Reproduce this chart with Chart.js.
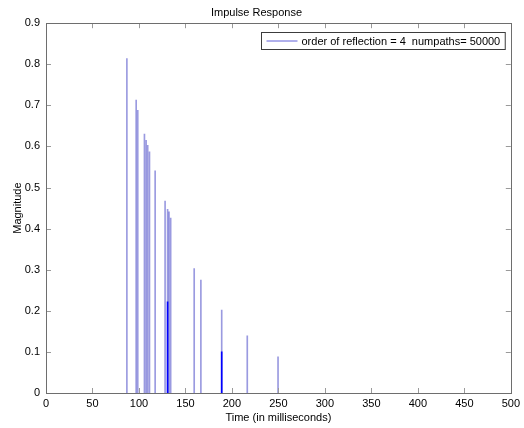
<!DOCTYPE html>
<html><head><meta charset="utf-8">
<script src="https://cdn.jsdelivr.net/npm/chart.js@4/dist/chart.umd.min.js"></script>
<style>html,body{margin:0;padding:0;background:#fff;overflow:hidden}#wrap{width:524px;height:428px;position:relative}</style>
</head><body><div id="wrap"><canvas id="c" width="524" height="428"></canvas></div>
<script>
// ---- data ----
const impulseTimes = [87.0, 97.0, 98.7, 105.9, 107.7, 109.4, 111.3, 117.4, 128.1, 130.8, 132.3, 134.1, 159.4, 166.6, 189.0, 216.5, 249.6, 130.8, 189.0];
const impulseMagnitudes = [0.814, 0.713, 0.688, 0.630, 0.615, 0.603, 0.587, 0.541, 0.467, 0.447, 0.441, 0.426, 0.303, 0.275, 0.202, 0.139, 0.088, 0.222, 0.100];
const xTicks = [0, 50, 100, 150, 200, 250, 300, 350, 400, 450, 500];
const yTicks = [0, 0.1, 0.2, 0.3, 0.4, 0.5, 0.6, 0.7, 0.8, 0.9];
const titleText = 'Impulse Response';
const xTitle = 'Time (in milliseconds)';
const yTitle = 'Magnitude';
const legendLabel = 'order of reflection = 4  numpaths= 50000';

const FONT = '"Liberation Sans", Arial, Helvetica, sans-serif';
const LIGHT = 'rgba(40,40,190,0.47)';
const DARK = '#0000ff';

function isOverlap(i) {
  for (let j = 0; j < impulseTimes.length; j++) {
    if (j !== i && impulseTimes[j] === impulseTimes[i] && impulseMagnitudes[j] > impulseMagnitudes[i]) return true;
  }
  return false;
}

const framePlugin = {
  id: 'frame',
  afterDatasetsDraw(chart) {
    const {ctx, chartArea: a, scales: {x, y}} = chart;
    ctx.save();
    // inward ticks
    ctx.strokeStyle = '#9a9a9a';
    ctx.lineWidth = 1;
    const tl = 5;
    ctx.beginPath();
    xTicks.forEach(v => {
      const px = Math.round(x.getPixelForValue(v)) + 0.5;
      ctx.moveTo(px, a.bottom); ctx.lineTo(px, a.bottom - tl);
      ctx.moveTo(px, a.top); ctx.lineTo(px, a.top + tl);
    });
    yTicks.forEach(v => {
      const py = Math.round(y.getPixelForValue(v)) + 0.5;
      ctx.moveTo(a.left, py); ctx.lineTo(a.left + tl, py);
      ctx.moveTo(a.right, py); ctx.lineTo(a.right - tl, py);
    });
    ctx.stroke();
    // box
    ctx.strokeStyle = '#6e6e6e';
    const l = Math.round(a.left) + 0.5, r = Math.round(a.right) + 0.5;
    const t = Math.round(a.top) + 0.5, b = Math.round(a.bottom) + 0.5;
    ctx.strokeRect(l, t, r - l, b - t);
    // legend
    ctx.font = '11px ' + FONT;
    const tw = ctx.measureText(legendLabel).width;
    const lineLen = 31, gap = 4, padL = 5, padR = 5;
    const bw = padL + lineLen + gap + tw + padR;
    const bh = 17;
    const bx = Math.round(a.right - 6 - bw) + 0.5;
    const by = Math.round(a.top + 9) + 0.5;
    ctx.fillStyle = '#fff';
    ctx.fillRect(bx, by, bw, bh);
    ctx.strokeStyle = '#3c3c3c';
    ctx.strokeRect(bx, by, bw, bh);
    ctx.strokeStyle = 'rgba(30,30,200,0.7)';
    ctx.beginPath();
    const ly = Math.round(by + bh / 2);
    ctx.moveTo(bx + padL, ly); ctx.lineTo(bx + padL + lineLen, ly);
    ctx.stroke();
    ctx.fillStyle = '#000';
    ctx.textBaseline = 'middle';
    ctx.textAlign = 'left';
    ctx.fillText(legendLabel, bx + padL + lineLen + gap, by + bh / 2 + 0.5);
    ctx.restore();
  }
};

new Chart(document.getElementById('c'), {
  type: 'bar',
  data: {
    datasets: [{
      label: legendLabel,
      data: impulseTimes.map((t, i) => ({x: t, y: impulseMagnitudes[i]})),
      barThickness: 1,
      borderWidth: 0,
      backgroundColor: (c) => isOverlap(c.dataIndex) ? DARK : LIGHT
    }]
  },
  options: {
    responsive: false,
    animation: false,
    devicePixelRatio: 1,
    layout: {padding: {left: 0, right: 11, top: 0, bottom: 0}},
    plugins: {
      legend: {display: false},
      tooltip: {enabled: false},
      title: {
        display: true, text: titleText, color: '#000',
        font: {family: FONT, size: 11, weight: 'normal'},
        padding: {top: 6, bottom: 4}
      }
    },
    scales: {
      x: {
        type: 'linear', position: 'bottom', min: 0, max: 500, offset: false,
        grid: {display: false, drawTicks: false},
        border: {display: false},
        afterBuildTicks: s => { s.ticks = xTicks.map(v => ({value: v})); },
        afterFit: s => { s.height = 35; },
        ticks: {color: '#000', font: {family: FONT, size: 11}, padding: 4, maxRotation: 0, autoSkip: false,
          callback: v => String(v)},
        title: {display: true, text: xTitle, color: '#000', font: {family: FONT, size: 11}, padding: {top: 0, bottom: 3}}
      },
      y: {
        type: 'linear', min: 0, max: 0.9,
        grid: {display: false, drawTicks: false},
        border: {display: false},
        afterBuildTicks: s => { s.ticks = yTicks.map(v => ({value: v})); },
        afterFit: s => { s.width = 46; },
        ticks: {color: '#000', font: {family: FONT, size: 11}, padding: 6, autoSkip: false,
          callback: v => v === 0 ? '0' : v.toFixed(1)},
        title: {display: true, text: yTitle, color: '#000', font: {family: FONT, size: 11}, padding: {top: 11, bottom: 0}}
      }
    }
  },
  plugins: [framePlugin]
});
</script>
</body></html>
